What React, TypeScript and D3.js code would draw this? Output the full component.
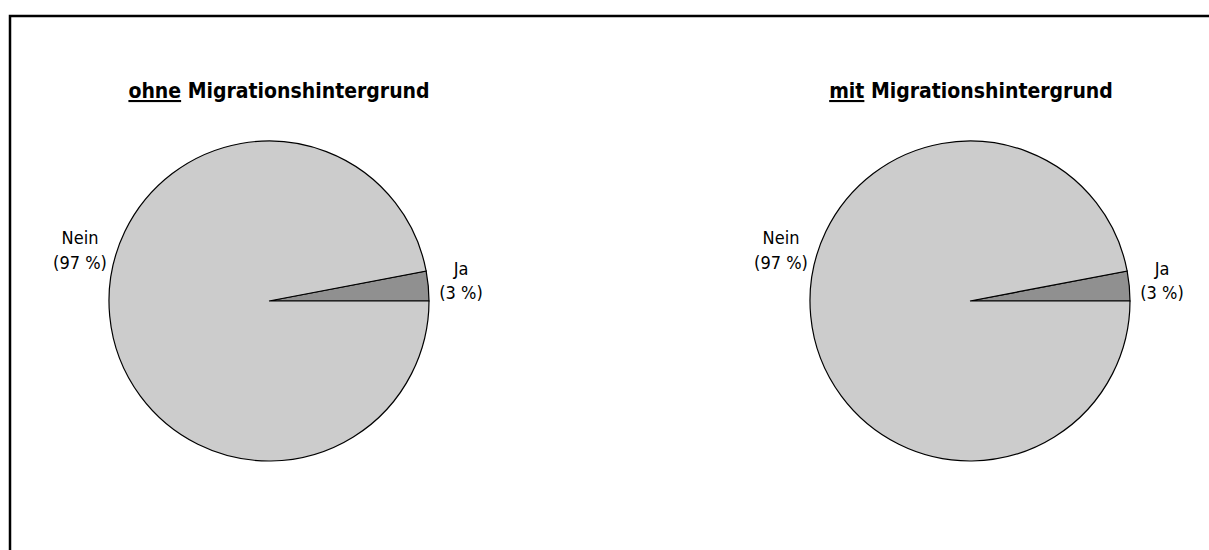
import React from "react";
import * as d3 from "d3";

const categories = ["Ja", "Nein"];
const titlesPrefix = ["ohne", "mit"];
const titleRest = " Migrationshintergrund";
const valuesOhne = [3, 97];
const valuesMit = [3, 97];
const series = [valuesOhne, valuesMit];
const colors = ["#909090", "#cccccc"];

const W = 1209;
const H = 550;
const FONT = "'DejaVu Sans Condensed', 'DejaVu Sans', sans-serif";

export default function App() {
  const r = 160;
  const cy = 301;
  const cxs = [269, 970];
  const titleCx = [279, 971];
  const arc = d3.arc<d3.PieArcDatum<number>>().innerRadius(0).outerRadius(r);

  return (
    <svg width={W} height={H} style={{ position: "absolute", left: 0, top: 0 }}>
      <rect x={0} y={0} width={W} height={H} fill="#fff" />
      <rect x={10} y={16} width={W + 20} height={H + 20} fill="none" stroke="#000" strokeWidth={2.5} />
      {series.map((vals, i) => {
        const total = d3.sum(vals);
        const start = Math.PI / 2 - (vals[0] / total) * 2 * Math.PI;
        const pie = d3.pie<number>().sort(null).startAngle(start).endAngle(start + 2 * Math.PI);
        const arcs = pie(vals);
        const cx = cxs[i];
        return (
          <g key={i}>
            <text x={titleCx[i]} y={98} textAnchor="middle" fontFamily={FONT} fontStretch="condensed" fontWeight="bold" fontSize={21} fill="#000">
              <tspan textDecoration="underline">{titlesPrefix[i]}</tspan>
              <tspan>{titleRest}</tspan>
            </text>
            <g transform={`translate(${cx},${cy})`}>
              {arcs.map((a, j) => (
                <path key={j} d={arc(a) || ""} fill={colors[j]} stroke="#000" strokeWidth={1.2} />
              ))}
            </g>
            <text textAnchor="middle" fontFamily={FONT} fontStretch="condensed" fontSize={18} fill="#000">
              <tspan x={cx + 192} y={275}>{categories[0]}</tspan>
              <tspan x={cx + 192} y={299}>{`(${vals[0]} %)`}</tspan>
            </text>
            <text textAnchor="middle" fontFamily={FONT} fontStretch="condensed" fontSize={18} fill="#000">
              <tspan x={cx - 189} y={244}>{categories[1]}</tspan>
              <tspan x={cx - 189} y={269}>{`(${vals[1]} %)`}</tspan>
            </text>
          </g>
        );
      })}
    </svg>
  );
}
